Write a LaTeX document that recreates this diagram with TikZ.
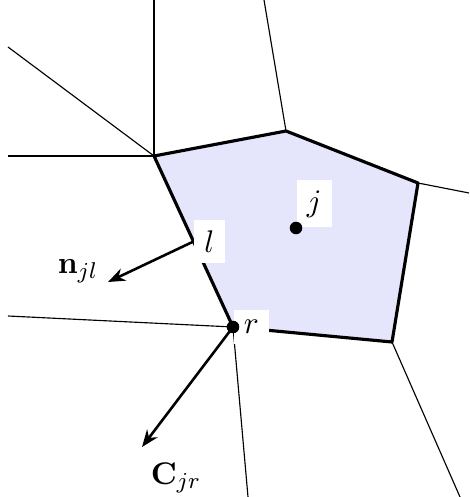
\documentclass[tikz,border=0pt]{standalone}
\usetikzlibrary{arrows.meta,calc}
\definecolor{cellblue}{RGB}{229,229,251}
\begin{document}
\begin{tikzpicture}[
        x=0.35pt, y=-0.35pt,
        font=\fontsize{11}{13}\selectfont,
        cell/.style={
            draw=black, line width=1.1pt,
            fill=cellblue, line join=round
        },
        edge/.style={draw=black, line width=0.4pt},
        vec/.style={-{Stealth[length=6pt,width=4.6pt]}, line width=0.9pt},
        dot/.style={circle, fill=black, inner sep=0pt, minimum size=4.4pt},
        lab/.style={fill=white, inner sep=3.6pt}
    ]
    \useasboundingbox (0,0) rectangle (469,497);

    % cell vertices
    \coordinate (A) at (154,156);
    \coordinate (B) at (286,131);
    \coordinate (C) at (418,183);
    \coordinate (D) at (392,342);
    \coordinate (r) at (233,327);
    \coordinate (l) at ($(A)!0.5!(r)$);
    \coordinate (j) at (296,228);

    % free ends of the neighbour edges
    \coordinate (A1) at (154,0);
    \coordinate (A2) at (8,47);
    \coordinate (A3) at (8,156);
    \coordinate (B1) at (264,0);
    \coordinate (C1) at (469,193);
    \coordinate (D1) at (460,497);
    \coordinate (r1) at (8,316);
    \coordinate (r2) at (248,497);

    % cell j
    \fill[cellblue] (A) -- (B) -- (C) -- (D) -- (r) -- cycle;

    % neighbour edges
    \draw[edge] (A) -- (A1);
    \draw[edge] (A) -- (A2);
    \draw[edge] (A) -- (A3);
    \draw[edge] (B) -- (B1);
    \draw[edge] (C) -- (C1);
    \draw[edge] (D) -- (D1);
    \draw[edge] (r) -- (r1);
    \draw[edge] (r) -- (r2);

    \draw[cell, fill=none] (A) -- (B) -- (C) -- (D) -- (r) -- cycle;

    % vectors
    \coordinate (nend) at (108,282);
    \coordinate (cend) at (142,447);
    \draw[vec] (l) -- (nend);
    \draw[vec] (r) -- (cend);

    % labels
    \node[lab, anchor=west] (llab) at (l) {$l$};
    \node[lab, anchor=south west] (jlab) at (j) {$j$};
    \node[lab, anchor=west] (rlab) at (r) {$r$};
    \node (nlab) at (78,271) {$\mathbf{n}_{jl}$};
    \node (clab) at (176,478) {$\mathbf{C}_{jr}$};

    % points
    \node[dot] (jpt) at (j) {};
    \node[dot] (rpt) at (r) {};

    \end{tikzpicture}
\end{document}
